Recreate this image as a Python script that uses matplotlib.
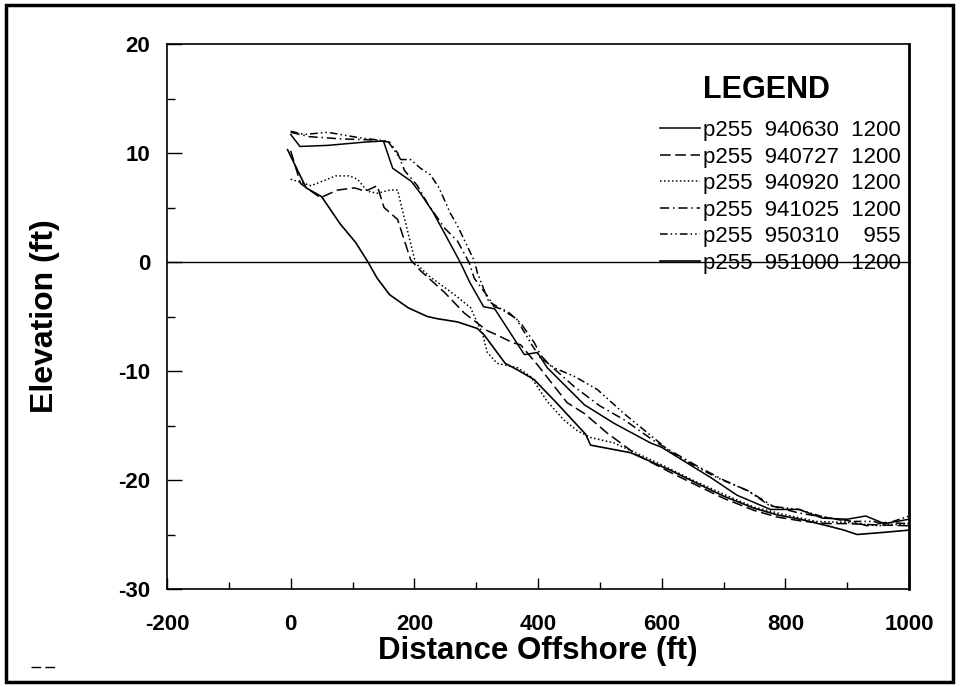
import matplotlib
matplotlib.use("Agg")
import matplotlib.pyplot as plt
from matplotlib.patches import Rectangle
from matplotlib.lines import Line2D

plt.rcParams['font.family'] = ['Liberation Sans', 'DejaVu Sans']
plt.rcParams['axes.unicode_minus'] = False

# ---- data (distance offshore ft, elevation ft) ----
labels = ["p255  940630  1200", "p255  940727  1200", "p255  940920  1200",
          "p255  941025  1200", "p255  950310    955", "p255  951000  1200"]

x_940630 = [0, 15, 60, 120, 150, 165, 195, 210, 230, 274, 290, 312, 330, 378, 399, 415,
            475, 523, 582, 600, 640, 680, 722, 776, 822, 860, 900, 930, 960, 1000]
y_940630 = [11.7, 10.6, 10.7, 11.0, 11.1, 8.6, 7.4, 6.3, 4.6, 0.0, -1.9, -4.1, -4.3, -8.5, -8.3, -9.7,
            -13.1, -14.8, -16.6, -17.0, -18.4, -19.8, -21.4, -22.7, -22.7, -23.5, -23.6, -23.3, -24.0, -23.6]

x_940727 = [0, 16, 48, 76, 103, 121, 140, 151, 173, 194, 210, 249, 281, 318, 334, 359, 372,
            400, 447, 475, 512, 560, 614, 657, 701, 750, 787, 830, 870, 900, 940, 1000]
y_940727 = [10.2, 7.2, 5.9, 6.6, 6.8, 6.5, 7.0, 5.0, 3.9, 0.2, -0.8, -2.8, -4.7, -6.3, -6.7, -7.4, -7.6,
            -9.5, -12.9, -13.9, -15.7, -17.7, -19.3, -20.5, -21.7, -22.8, -23.4, -23.8, -24.0, -24.0, -24.1, -24.2]

x_940920 = [0, 33, 73, 95, 108, 124, 140, 160, 173, 181, 194, 202, 224, 265, 291, 302, 310, 318,
            334, 367, 388, 415, 442, 464, 485, 523, 550, 600, 650, 700, 750, 800, 850, 900, 950, 1000]
y_940920 = [7.6, 7.0, 7.9, 7.9, 7.6, 6.5, 6.3, 6.6, 6.6, 4.7, 1.7, -0.1, -1.3, -3.0, -4.2, -5.6, -6.5, -8.3,
            -9.3, -9.7, -10.5, -12.8, -14.5, -15.5, -16.1, -16.6, -17.3, -18.6, -20.0, -21.3, -22.5, -23.2,
            -23.8, -23.9, -24.2, -24.0]

x_941025 = [0, 30, 80, 130, 160, 173, 184, 205, 221, 249, 270, 289, 297, 318, 329, 350, 372, 394,
            405, 420, 460, 500, 540, 590, 620, 660, 700, 740, 780, 820, 860, 900, 932, 960, 1000]
y_941025 = [11.9, 11.5, 11.3, 11.2, 11.0, 10.0, 8.4, 7.0, 5.4, 3.1, 1.9, -0.1, -1.5, -3.1, -4.1, -4.5,
            -5.6, -7.4, -8.6, -9.5, -11.5, -13.2, -14.5, -16.5, -17.5, -18.8, -20.0, -21.0, -22.4, -23.0,
            -23.4, -23.7, -24.2, -23.9, -24.0]

x_950310 = [0, 22, 60, 111, 140, 157, 178, 194, 210, 226, 240, 258, 270, 281, 297, 302, 320, 340,
            365, 390, 404, 426, 459, 496, 539, 582, 614, 650, 690, 740, 776, 822, 856, 900, 919, 943, 959, 1000]
y_950310 = [12.0, 11.7, 11.9, 11.4, 11.2, 11.1, 9.4, 9.4, 8.6, 8.0, 6.8, 4.5, 3.3, 2.0, 0.1, -1.0, -3.6,
            -4.3, -5.2, -7.6, -8.8, -9.7, -10.5, -11.7, -13.9, -15.9, -17.4, -18.6, -19.8, -21.0, -22.4,
            -22.7, -23.3, -23.8, -23.8, -23.8, -24.1, -23.3]

x_951000 = [-5, 25, 50, 80, 105, 125, 140, 160, 190, 221, 237, 270, 302, 313, 347, 367, 394, 428,
            477, 485, 550, 582, 614, 657, 701, 750, 787, 824, 868, 895, 916, 960, 1000]
y_951000 = [10.3, 6.8, 6.0, 3.5, 1.8, 0.0, -1.5, -3.0, -4.2, -5.0, -5.2, -5.5, -6.1, -6.7, -9.3, -9.9,
            -10.8, -12.8, -15.8, -16.8, -17.5, -18.3, -19.1, -20.3, -21.5, -22.6, -23.2, -23.6, -24.2,
            -24.6, -25.0, -24.8, -24.6]

xs = [x_940630, x_940727, x_940920, x_941025, x_950310, x_951000]
ys = [y_940630, y_940727, y_940920, y_941025, y_950310, y_951000]
styles = ['-', (0, (7, 3)), (0, (1, 1.6)), (0, (6, 2.5, 1, 2.5)), (0, (5, 2, 1, 2, 1, 2)), '-']
widths = [1.1, 1.1, 1.1, 1.1, 1.1, 1.2]

fig = plt.figure(figsize=(9.61, 6.87), dpi=100)
ax = fig.add_axes([167/961, 1-589/687, (909-167)/961, (589-44)/687])

for x, y, ls, lw, lab in zip(xs, ys, styles, widths, labels):
    ax.plot(x, y, color='black', linestyle=ls, linewidth=lw, label=lab)

ax.axhline(0, color='black', linewidth=1.0, zorder=1)

ax.set_xlim(-200, 1000)
ax.set_ylim(-30, 20)
ax.set_xticks(range(-200, 1001, 200))
ax.set_xticks(range(-100, 1000, 200), minor=True)
ax.set_yticks(range(-30, 21, 10))
ax.set_yticks(range(-25, 20, 10), minor=True)
ax.tick_params(which='both', direction='in', top=False, right=False, width=1.0)
ax.tick_params(axis='y', which='major', length=11, pad=12)
ax.tick_params(axis='y', which='minor', length=6)
ax.tick_params(axis='x', which='major', length=8, pad=18)
ax.tick_params(axis='x', which='minor', length=5)
for lab in ax.get_xticklabels() + ax.get_yticklabels():
    lab.set_fontsize(16)
    lab.set_fontweight('bold')
for sp in ax.spines.values():
    sp.set_linewidth(1.2)
ax.spines['right'].set_linewidth(2.0)

ax.set_xlabel("Distance Offshore (ft)", fontsize=22.5, fontweight='bold', labelpad=1)
ax.set_ylabel("Elevation (ft)", fontsize=23, fontweight='bold', labelpad=42)

ax.text((703-167)/742, (589-90)/545, "LEGEND", transform=ax.transAxes,
        fontsize=22, fontweight='bold', ha='left', va='center')
leg = ax.legend(loc='upper left', bbox_to_anchor=((660-167)/742, (589-120)/545),
                frameon=False, fontsize=16, handlelength=1.8, handletextpad=0.12,
                labelspacing=0.25, borderaxespad=0, borderpad=0)

fig.patches.append(Rectangle((6/961, 5/687), (953-6)/961, (682-5)/687, transform=fig.transFigure,
                             fill=False, edgecolor='black', linewidth=2.5))
fig.lines.append(Line2D([31/961, 55/961], [1-667/687, 1-667/687], transform=fig.transFigure,
                        color='black', linewidth=1.0, linestyle=(0, (7, 3))))

fig.savefig("out.png", dpi=100)
